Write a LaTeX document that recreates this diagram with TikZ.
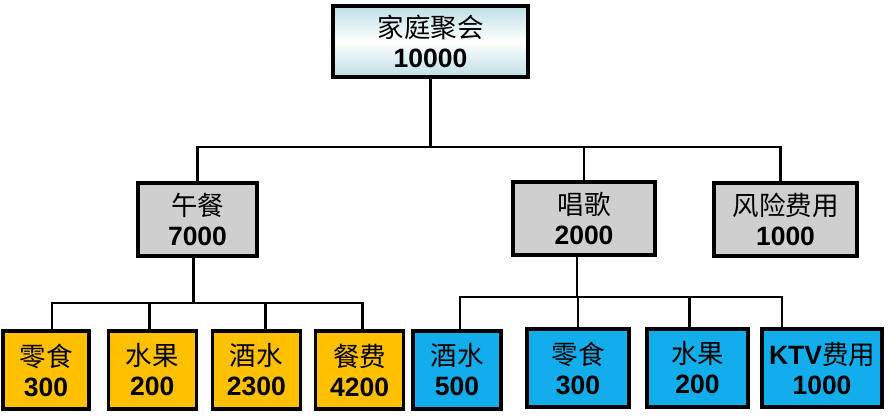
\documentclass[tikz,border=0pt]{standalone}
\usepackage{fontspec}
\setmainfont{Liberation Sans}
\newfontfamily\cjk{Noto Sans CJK SC}
\usetikzlibrary{positioning}

\definecolor{rootc}{HTML}{BCDFE6}
\definecolor{grayc}{HTML}{CFCFCF}
\definecolor{orangec}{HTML}{FFC000}
\definecolor{bluec}{HTML}{12AEEB}

\begin{document}
\begin{tikzpicture}[
    x=1pt, y=-1pt,
    every node/.style={font=\fontsize{26.5}{30}\selectfont},
    box/.style={draw, line width=3.2pt, align=center, inner sep=0pt, minimum height=73pt},
    leaf/.style={box, minimum height=78pt, minimum width=88pt},
    conn/.style={line width=2.8pt}
  ]
    \useasboundingbox (0,0) rectangle (893,418);

    \node[box, minimum width=195pt, minimum height=71pt, top color=rootc, bottom color=rootc, middle color=white] (root) at (430.5,41.5) {{\cjk 家庭聚会}\\\textbf{10000}};

    \node[box, fill=grayc, minimum width=119pt] (lunch) at (197.5,219.5) {{\cjk 午餐}\\\textbf{7000}};
    \node[box, fill=grayc, minimum width=142pt] (sing) at (584,218.5) {{\cjk 唱歌}\\\textbf{2000}};
    \node[box, fill=grayc, minimum width=143pt] (risk) at (785.5,219.5) {{\cjk 风险费用}\\\textbf{1000}};

    % lunch items
    \node[leaf, fill=orangec, minimum width=86pt] (snack1) at (46,370) {{\cjk 零食}\\\textbf{300}};
    \node[leaf, fill=orangec, right=16pt of snack1] (fruit1) {{\cjk 水果}\\\textbf{200}};
    \node[leaf, fill=orangec, right=13pt of fruit1] (drink1) {{\cjk 酒水}\\\textbf{2300}};
    \node[leaf, fill=orangec, right=12pt of drink1] (meal1) {{\cjk 餐费}\\\textbf{4200}};

    % singing items
    \node[leaf, fill=bluec] (drink2) at (457,370) {{\cjk 酒水}\\\textbf{500}};
    \node[leaf, fill=bluec, minimum width=102pt] (snack2) at (578,368) {{\cjk 零食}\\\textbf{300}};
    \node[leaf, fill=bluec, minimum width=101pt] (fruit2) at (697.5,368) {{\cjk 水果}\\\textbf{200}};
    \node[leaf, fill=bluec, minimum width=120pt] (ktv2) at (822,368) {\textbf{KTV}{\cjk 费用}\\\textbf{1000}};

    \coordinate (bus) at (0,147);
    \coordinate (lbus) at (0,303);
    \coordinate (sbus) at (0,297);

    \draw[conn] (root.south) -- (root.south |- bus);
    \draw[conn] (lunch.north) -- (lunch.north |- bus) -| ([xshift=-5pt]risk.north);
    \draw[conn] (sing.north) -- (sing.north |- bus);

    \draw[conn] ([xshift=-4pt]lunch.south) -- ([xshift=-4pt]lunch.south |- lbus);
    \draw[conn] ([xshift=6pt]snack1.north) -- ([xshift=6pt]snack1.north |- lbus) -| ([xshift=3pt]meal1.north);
    \draw[conn] ([xshift=-3pt]fruit1.north) -- ([xshift=-3pt]fruit1.north |- lbus);
    \draw[conn] ([xshift=9pt]drink1.north) -- ([xshift=9pt]drink1.north |- lbus);

    \draw[conn] ([xshift=-7pt]sing.south) -- ([xshift=-7pt]sing.south |- sbus);
    \draw[conn] ([xshift=3pt]drink2.north) -- ([xshift=3pt]drink2.north |- sbus) -| ([xshift=-40pt]ktv2.north);
    \draw[conn] (snack2.north) -- (snack2.north |- sbus);
    \draw[conn] ([xshift=-8pt]fruit2.north) -- ([xshift=-8pt]fruit2.north |- sbus);
  \end{tikzpicture}
\end{document}
